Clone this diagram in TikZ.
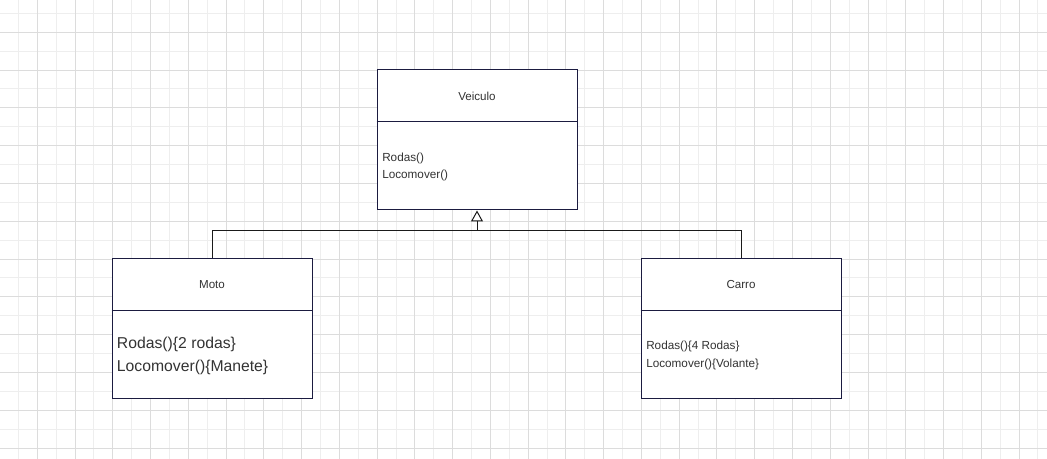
\documentclass[tikz,border=0pt]{standalone}
\usepackage{fontspec}
\setmainfont{Liberation Sans}
\usetikzlibrary{arrows.meta}
\definecolor{boxcol}{HTML}{1B1B40}
\definecolor{linecol}{HTML}{1A1A1A}
\definecolor{txtcol}{HTML}{333333}
\definecolor{gridlight}{HTML}{EEEEEE}
\definecolor{griddark}{HTML}{DCDCDC}
\tikzset{
  classbox/.style={draw=boxcol, fill=white, line width=0.75pt, minimum width=150pt, minimum height=105pt, inner sep=0pt},
  divider/.style={draw=boxcol, line width=0.75pt},
  title/.style={text=txtcol, font=\fontsize{8.7}{10}\selectfont, inner sep=0pt},
  body/.style={text=txtcol, font=\fontsize{8.8}{12.8}\selectfont, align=left, inner sep=0pt, anchor=west},
  bigbody/.style={text=txtcol, font=\fontsize{11.8}{16.7}\selectfont, align=left, inner sep=0pt, anchor=west},
  conn/.style={draw=linecol, line width=0.75pt},
  gl/.style={draw=gridlight, line width=0.75pt},
  gd/.style={draw=griddark, line width=0.75pt}
}
\begin{document}
\begin{tikzpicture}[x=0.75pt,y=-0.75pt]
\useasboundingbox (0,0) rectangle (1047,459);
\fill[white] (0,0) rectangle (1047,459);
% grid
\foreach \i in {0,...,27} {
  \draw[gl] ({18.4+37.76*\i},0) -- ({18.4+37.76*\i},459);
}
\foreach \j in {0,...,12} {
  \draw[gl] (0,{13.4+37.8*\j}) -- (1047,{13.4+37.8*\j});
}
\foreach \i in {0,...,27} {
  \draw[gd] ({37.3+37.76*\i},0) -- ({37.3+37.76*\i},459);
}
\foreach \j in {0,...,11} {
  \draw[gd] (0,{32.3+37.8*\j}) -- (1047,{32.3+37.8*\j});
}
% boxes
\node[classbox] (veic) at (477,140) {};
\node[classbox] (moto) at (212,329) {};
\node[classbox] (carro) at (741,329) {};
\draw[divider] (veic.north west) ++(0,52) -- ++(200,0);
\draw[divider] (moto.north west) ++(0,52) -- ++(200,0);
\draw[divider] (carro.north west) ++(0,52) -- ++(200,0);
% titles
\node[title] (tveic) at (477,96.5) {Veiculo};
\node[title] (tmoto) at (212,285) {Moto};
\node[title] (tcarro) at (741,285) {Carro};
% bodies
\node[body] (bveic) at (382,166.7) {Rodas()\\Locomover()};
\node[bigbody] (bmoto) at (116.7,356) {Rodas()\{2 rodas\}\\Locomover()\{Manete\}};
\node[body] (bcarro) at (646,355.5) {Rodas()\{4 Rodas\}\\Locomover()\{Volante\}};
% connectors
\coordinate (j) at (477,231);
\draw[conn, {Triangle[open, width=9pt, length=8.25pt, fill=white]}-] (veic.south) -- (j);
\draw[conn] (j) -| (moto.north);
\draw[conn] (j) -| (carro.north);
\end{tikzpicture}
\end{document}
